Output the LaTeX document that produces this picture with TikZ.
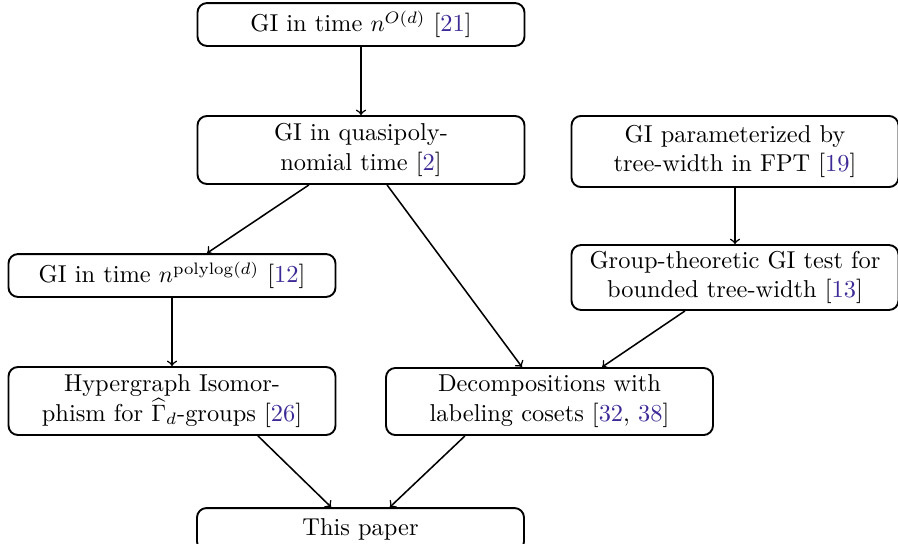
\documentclass[tikz,border=0pt]{standalone}
\usepackage{amsmath}
\definecolor{citec}{RGB}{62,42,150}
\newcommand{\rf}[1]{[{\color{citec}#1}]}
\begin{document}
\begin{tikzpicture}[x=0.422pt,y=-0.422pt,
  box/.style={draw,thick,rounded corners=4pt,align=center,minimum width=138pt,inner ysep=1pt,
    font=\fontsize{10.3}{12.6}\selectfont},
  arr/.style={->,line width=0.65pt}]
\useasboundingbox (0,0) rectangle (898,544);
\node[box,minimum height=18.1pt] (b1) at (361,24.5) {GI in time $n^{O(d)}$ \rf{21}};
\node[box,minimum height=28.7pt] (b2) at (361,150) {GI in quasipoly-\\nomial time \rf{2}};
\node[box,minimum height=30pt] (b3) at (735,151.5) {GI parameterized by\\tree-width in FPT \rf{19}};
\node[box,minimum height=18.1pt] (b4) at (172,275.5) {GI in time $n^{\mathrm{polylog}(d)}$ \rf{12}};
\node[box,minimum height=27.4pt] (b5) at (735,277.5) {Group-theoretic GI test for\\bounded tree-width \rf{13}};
\node[box,minimum height=28.7pt] (b6) at (172,401) {Hypergraph Isomor-\\phism for $\widehat{\Gamma}_d$-groups \rf{26}};
\node[box,minimum height=28.3pt] (b7) at (549.5,401.5) {Decompositions with\\labeling cosets [{\color{citec}32}, {\color{citec}38}]};
\node[box,minimum height=18.1pt] (b8) at (360.5,529.5) {This paper};
\draw[arr] (b1.south) -- (b2.north);
\draw[arr] ([xshift=-22pt]b2.south) -- ([xshift=14.8pt]b4.north);
\draw[arr] ([xshift=11pt]b2.south) -- ([xshift=-11.6pt]b7.north);
\draw[arr] (b3.south) -- (b5.north);
\draw[arr] ([xshift=-21.1pt]b5.south) -- ([xshift=22.2pt]b7.north);
\draw[arr] (b4.south) -- (b6.north);
\draw[arr] ([xshift=36.3pt]b6.south) -- ([xshift=-12.4pt]b8.north);
\draw[arr] ([xshift=-35.7pt]b7.south) -- ([xshift=12.4pt]b8.north);
\end{tikzpicture}
\end{document}
